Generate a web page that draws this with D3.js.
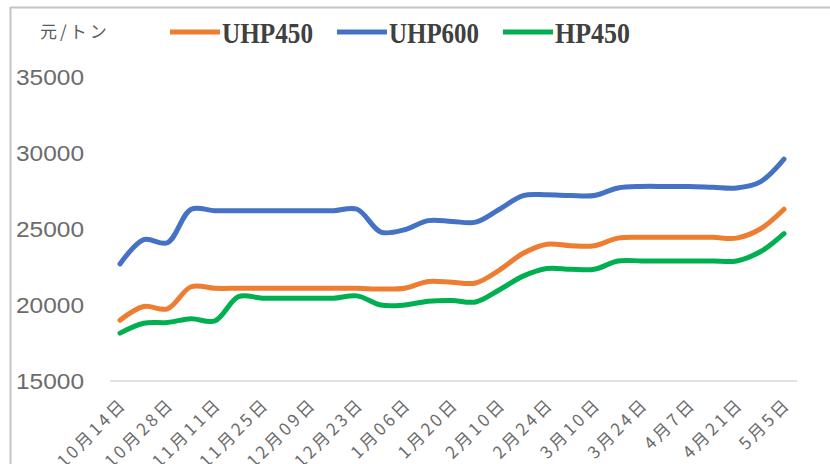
<!DOCTYPE html>
<html>
<head>
<meta charset="utf-8">
<script src="https://cdn.jsdelivr.net/npm/d3@7"></script>
<style>
    html, body { margin: 0; padding: 0; background: #fff; }
    svg { display: block; }
</style>
</head>
<body>
<div id="chart"></div>
<script>
// tick labels, one every two weekly points
var tickLabels = ["10月14日", "10月28日", "11月11日", "11月25日", "12月09日",
    "12月23日", "1月06日", "1月20日", "2月10日", "2月24日", "3月10日",
    "3月24日", "4月7日", "4月21日", "5月5日"];

var uhp450 = [19000, 19900, 19750, 21200, 21100, 21100, 21100, 21100, 21100, 21100,
    21100, 21050, 21100, 21550, 21500, 21450, 22300, 23400, 24000, 23900,
    23900, 24400, 24450, 24450, 24450, 24450, 24400, 25000, 26300];

var uhp600 = [22700, 24300, 24100, 26300, 26200, 26200, 26200, 26200, 26200, 26200,
    26300, 24800, 24950, 25550, 25500, 25450, 26300, 27200, 27250, 27200,
    27200, 27700, 27800, 27800, 27800, 27750, 27700, 28100, 29600];

var hp450 = [18150, 18800, 18850, 19100, 18950, 20550, 20450, 20450, 20450, 20450,
    20600, 20000, 20000, 20250, 20300, 20200, 21000, 21900, 22400, 22350,
    22350, 22900, 22900, 22900, 22900, 22900, 22900, 23500, 24700];

var seriesNames = ["UHP450", "UHP600", "HP450"];
var yTicks = [15000, 20000, 25000, 30000, 35000];
var unitLabel = "元/トン";

(function(d3) {

    "use strict";

    var width = 830,
        height = 464;

    var colors = ["#ED7D31", "#4472C4", "#00B050"];
    var series = [uhp450, uhp600, hp450];

    var svg = d3.select("#chart")
        .append("svg")
        .attr("width", width)
        .attr("height", height);

    // frame of the cropped screenshot
    svg.append("line")
        .attr("x1", 10).attr("x2", width)
        .attr("y1", 7.5).attr("y2", 7.5)
        .style("stroke", "#c4c4c4")
        .style("stroke-width", 2);
    svg.append("line")
        .attr("x1", 10.5).attr("x2", 10.5)
        .attr("y1", 7).attr("y2", height)
        .style("stroke", "#c4c4c4")
        .style("stroke-width", 2);

    var x = d3.scalePoint()
        .domain(d3.range(uhp450.length))
        .range([120, 784]);

    var y = d3.scaleLinear()
        .domain([15000, 35000])
        .range([381, 77]);

    // y tick labels
    svg.selectAll(".ytick")
        .data(yTicks)
        .enter()
        .append("text")
        .attr("class", "ytick")
        .attr("x", 84)
        .attr("y", function(d) { return y(d); })
        .attr("dy", "0.36em")
        .attr("text-anchor", "end")
        .attr("textLength", 68)
        .attr("lengthAdjust", "spacingAndGlyphs")
        .style("font-family", "'Liberation Sans', Arial, sans-serif")
        .style("font-size", "22px")
        .style("fill", "#6b6b6b")
        .text(function(d) { return d; });

    // baseline
    svg.append("line")
        .attr("x1", 110).attr("x2", 797)
        .attr("y1", y(15000)).attr("y2", y(15000))
        .style("stroke", "#d9d9d9")
        .style("stroke-width", 1.5);

    // x tick labels
    svg.selectAll(".xtick")
        .data(tickLabels)
        .enter()
        .append("text")
        .attr("class", "xtick")
        .attr("transform", function(d, i) {
            return "translate(" + (x(i * 2) + 8) + ",405) rotate(-45)";
        })
        .attr("text-anchor", "end")
        .style("font-family", "'Noto Sans CJK JP', sans-serif")
        .style("font-size", "17px")
        .style("letter-spacing", "3px")
        .style("fill", "#6b6b6b")
        .text(function(d) { return d; });

    var line = d3.line()
        .x(function(d, i) { return x(i); })
        .y(function(d) { return y(d); })
        .curve(d3.curveCatmullRom.alpha(0.5));

    svg.selectAll(".series")
        .data(series)
        .enter()
        .append("path")
        .attr("class", "series")
        .attr("d", line)
        .style("fill", "none")
        .style("stroke", function(d, i) { return colors[i]; })
        .style("stroke-width", 5)
        .style("stroke-linecap", "round")
        .style("stroke-linejoin", "round");

    // legend
    svg.append("text")
        .attr("x", 40)
        .attr("y", 38)
        .style("font-family", "'Noto Sans CJK JP', sans-serif")
        .style("font-size", "17px")
        .style("letter-spacing", "3px")
        .style("fill", "#595959")
        .text(unitLabel);

    var legendX = [170, 337, 503],
        legendW = [91, 90, 75];

    var item = svg.selectAll(".legend")
        .data(seriesNames)
        .enter()
        .append("g")
        .attr("class", "legend")
        .attr("transform", function(d, i) { return "translate(" + legendX[i] + ",0)"; });

    item.append("line")
        .attr("x1", 0).attr("x2", 50)
        .attr("y1", 32).attr("y2", 32)
        .style("stroke", function(d, i) { return colors[i]; })
        .style("stroke-width", 5);

    item.append("text")
        .attr("x", 52)
        .attr("y", 43)
        .attr("textLength", function(d, i) { return legendW[i]; })
        .attr("lengthAdjust", "spacingAndGlyphs")
        .style("font-family", "'Liberation Serif', 'Times New Roman', serif")
        .style("font-weight", "bold")
        .style("font-size", "29px")
        .style("fill", "#404040")
        .text(function(d) { return d; });

})(d3);
</script>
</body>
</html>
